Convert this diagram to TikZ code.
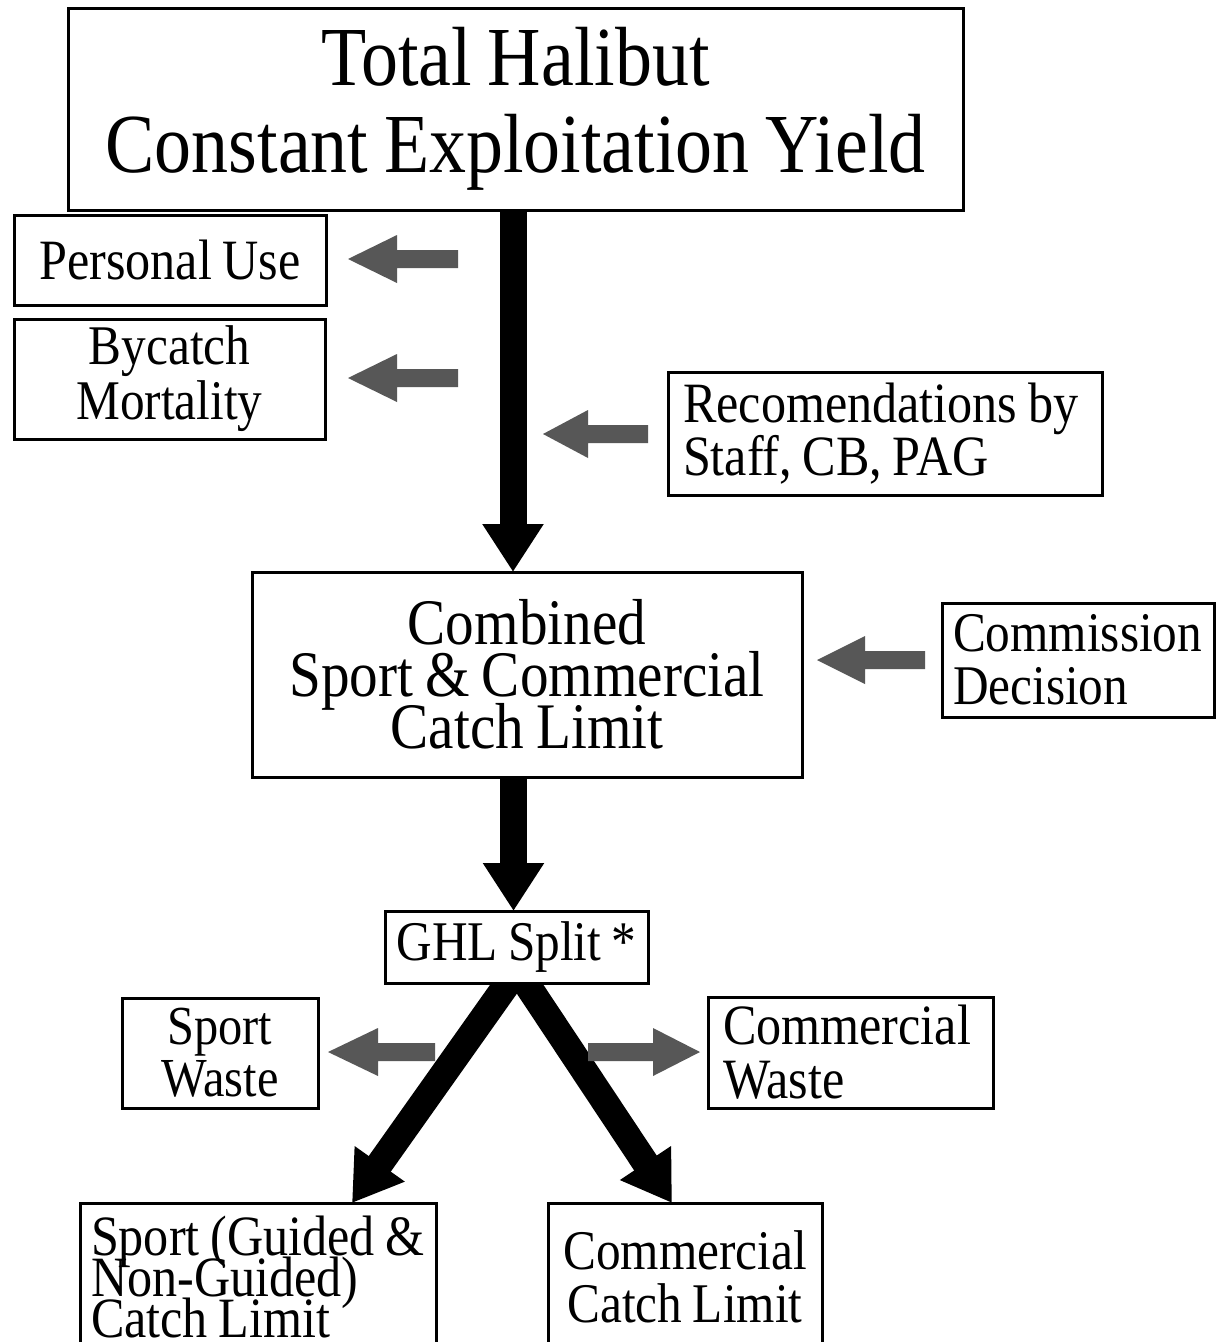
\documentclass[tikz,border=0pt]{standalone}
\usepackage{fontspec}
\setmainfont{Liberation Serif}
\newfontfamily\df[FakeStretch=0.88,WordSpace=0.85]{Liberation Serif}
\usetikzlibrary{arrows.meta}
\newcommand{\tightls}{\lineskiplimit=-100pt\relax}
\tikzset{
  box/.style={draw, line width=3pt, fill=white, inner sep=0pt, rectangle},
  blk/.style={line width=27pt, -{Triangle[width=58pt,length=48pt]}},
  greyarr/.style={fill=black!66, draw=none}
}
\newcommand{\garr}[4]{% tail x, head-back x, tip x, y
  \fill[greyarr] (#1,#4-9) -- (#2,#4-9) -- (#2,#4-24) -- (#3,#4) -- (#2,#4+24) -- (#2,#4+9) -- (#1,#4+9) -- cycle;}
\begin{document}
\begin{tikzpicture}[x=1pt,y=-1pt]
\useasboundingbox (0,0) rectangle (1217,1342);
\fill[white] (0,0) rectangle (1217,1342);

% black connectors (drawn first, boxes on top)
\coordinate (splitL) at (510,980);
\coordinate (splitR) at (524,980);
\coordinate (sporttip) at (352,1203);
\coordinate (commtip) at (672,1203);
\coordinate (mainTop) at (513,205);
\coordinate (mainEnd) at (513,572);
\coordinate (secTop) at (513.5,775);
\coordinate (secEnd) at (513.5,911);

\draw[blk] (mainTop) -- (mainEnd);
\draw[blk] (secTop) -- (secEnd);
\draw[blk] (splitL) -- (sporttip);
\draw[blk] (splitR) -- (commtip);

% boxes
\node[box, minimum width=895, minimum height=202, align=center,
      font={\df\fontsize{84}{87}\selectfont}] (title) at (515.5,109)
      {Total Halibut\\Constant Exploitation Yield};

\node[box, minimum width=312, minimum height=90, align=center,
      font={\df\fontsize{57}{55}\selectfont}] (personal) at (170,260) {Personal Use};

\node[box, minimum width=311, minimum height=120, align=center,
      font={\df\fontsize{56}{55}\selectfont}] (bycatch) at (169.5,379) {Bycatch\\Mortality};

\node[box, minimum width=434, minimum height=123, text width=404, align=flush left,
      font={\df\fontsize{57}{52}\selectfont}] (recom) at (885,433.5)
      {Recomendations by\\Staff, CB, PAG};

\node[box, minimum width=550, minimum height=205, align=center,
      font={\df\fontsize{65}{52}\selectfont\tightls}] (comb) at (527,674.5)
      {Combined\\Sport \& Commercial\\Catch Limit};

\node[box, minimum width=272, minimum height=114, text width=250, align=flush left,
      font={\df\fontsize{56}{53}\selectfont}] (commission) at (1078,660)
      {Commission\\Decision};

\node[box, minimum width=263, minimum height=72, align=center,
      font={\df\fontsize{56}{55}\selectfont}] (ghl) at (516.5,947) {GHL Split *};

\node[box, minimum width=196, minimum height=110, align=center,
      font={\df\fontsize{55}{52}\selectfont}] (sportwaste) at (220,1053) {Sport\\Waste};

\node[box, minimum width=285, minimum height=111, text width=255, align=flush left,
      font={\df\fontsize{57}{54}\selectfont}] (commwaste) at (850.5,1052.5) {Commercial\\Waste};

\node[box, minimum width=356, minimum height=147, text width=334, align=flush left,
      font={\df\fontsize{57}{41}\selectfont\tightls}] (sportcl) at (258,1276.5)
      {Sport (Guided \&\\Non-Guided)\\Catch Limit};

\node[box, minimum width=274, minimum height=147, align=center,
      font={\df\fontsize{56}{53}\selectfont}] (commcl) at (685,1276.5)
      {Commercial\\Catch Limit};

% grey block arrows
\garr{458}{397}{348}{259}
\garr{458}{397}{348}{378}
\garr{648}{588}{543}{434}
\garr{925}{865}{817}{660}
\garr{435}{378}{328}{1052}
\garr{588}{653}{700}{1052}
\end{tikzpicture}
\end{document}
